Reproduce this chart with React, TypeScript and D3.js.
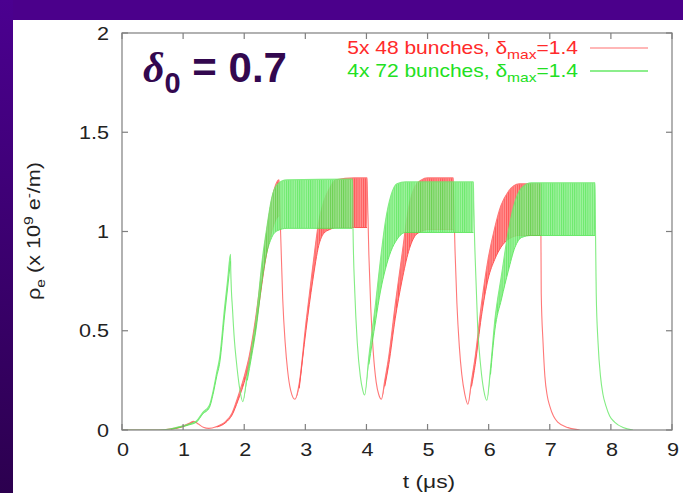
import React from 'react';
import * as d3 from 'd3';

// Each row: [t (µs), lower envelope, upper envelope] of the electron line density (x 1e9 e-/m).
// Where lower == upper the curve is a single decaying line between bunch trains.
type Row = [number, number, number];

const xTicks = [0, 1, 2, 3, 4, 5, 6, 7, 8, 9];
const yTicks = [0, 0.5, 1, 1.5, 2];
const yTickLabels = ['0', '0.5', '1', '1.5', '2'];

// 5 trains of 48 bunches, delta_max = 1.4
const trains48: Row[] = [
  [0, 0, 0], [0.6, 0, 0], [0.8, 0.004, 0.006], [0.97, 0.014, 0.018], [1.1, 0.03, 0.034], [1.17, 0.04, 0.044],
  [1.25, 0.03, 0.03], [1.33, 0.014, 0.014], [1.42, 0.008, 0.008],
  [1.55, 0.015, 0.018], [1.7, 0.038, 0.044], [1.8, 0.075, 0.085], [1.9, 0.15, 0.17], [2.0, 0.24, 0.27],
  [2.08, 0.33, 0.37], [2.17, 0.48, 0.53], [2.25, 0.65, 0.71], [2.35, 0.86, 0.96], [2.45, 1.0, 1.16],
  [2.52, 1.06, 1.24], [2.57, 1.08, 1.26],
  [2.575, 1.2, 1.2], [2.6, 0.95, 0.95], [2.63, 0.66, 0.66], [2.67, 0.44, 0.44], [2.71, 0.3, 0.3],
  [2.76, 0.2, 0.2], [2.83, 0.155, 0.155],
  [2.9, 0.21, 0.235], [3.01, 0.5, 0.54], [3.12, 0.75, 0.82], [3.22, 0.93, 1.05], [3.3, 0.99, 1.15],
  [3.4, 1.01, 1.22], [3.5, 1.02, 1.26], [3.8, 1.02, 1.27], [4.01, 1.02, 1.27],
  [4.015, 1.2, 1.2], [4.04, 0.88, 0.88], [4.07, 0.62, 0.62], [4.11, 0.4, 0.4], [4.16, 0.24, 0.24],
  [4.2, 0.18, 0.18], [4.245, 0.155, 0.155],
  [4.3, 0.22, 0.25], [4.365, 0.33, 0.37], [4.47, 0.56, 0.63], [4.58, 0.75, 0.88], [4.69, 0.9, 1.12],
  [4.8, 0.98, 1.23], [4.9, 1.0, 1.26], [5.0, 1.01, 1.27], [5.42, 1.01, 1.27],
  [5.425, 1.2, 1.2], [5.45, 0.9, 0.9], [5.48, 0.64, 0.64], [5.52, 0.42, 0.42], [5.56, 0.28, 0.28],
  [5.61, 0.18, 0.18], [5.66, 0.13, 0.13],
  [5.72, 0.22, 0.25], [5.78, 0.33, 0.37], [5.88, 0.57, 0.63], [5.99, 0.76, 0.86], [6.1, 0.86, 1.02],
  [6.2, 0.92, 1.13], [6.32, 0.96, 1.2], [6.5, 0.98, 1.24], [6.85, 0.98, 1.24],
  [6.855, 1.0, 1.0], [6.86, 0.69, 0.69], [6.89, 0.44, 0.44], [6.92, 0.27, 0.27], [6.96, 0.17, 0.17],
  [7.0, 0.12, 0.12], [7.06, 0.07, 0.07], [7.13, 0.04, 0.04], [7.3, 0.012, 0.012], [7.49, 0, 0],
];

// 4 trains of 72 bunches, delta_max = 1.4
const trains72: Row[] = [
  [0, 0, 0], [0.6, 0, 0], [0.8, 0.004, 0.006], [0.97, 0.015, 0.019], [1.1, 0.026, 0.03], [1.22, 0.04, 0.046],
  [1.32, 0.08, 0.088], [1.43, 0.113, 0.125], [1.49, 0.18, 0.195], [1.55, 0.27, 0.29], [1.6, 0.34, 0.37],
  [1.68, 0.58, 0.62], [1.73, 0.72, 0.76], [1.775, 0.85, 0.885],
  [1.78, 0.8, 0.8], [1.81, 0.6, 0.6], [1.84, 0.45, 0.45], [1.87, 0.35, 0.35], [1.92, 0.22, 0.22], [1.976, 0.143, 0.143],
  [2.05, 0.25, 0.28], [2.12, 0.37, 0.41], [2.19, 0.5, 0.55], [2.3, 0.77, 0.87], [2.36, 0.88, 1.0],
  [2.45, 0.97, 1.17], [2.55, 1.005, 1.24], [2.7, 1.016, 1.26], [3.77, 1.016, 1.264],
  [3.775, 1.2, 1.2], [3.78, 1.02, 1.02], [3.81, 0.69, 0.69], [3.85, 0.44, 0.44], [3.9, 0.27, 0.27],
  [3.94, 0.2, 0.2], [3.97, 0.176, 0.176],
  [4.04, 0.33, 0.37], [4.15, 0.55, 0.64], [4.23, 0.7, 0.86], [4.31, 0.81, 1.05], [4.4, 0.9, 1.18],
  [4.5, 0.96, 1.24], [4.64, 0.995, 1.25], [5.75, 0.995, 1.25],
  [5.755, 1.15, 1.15], [5.78, 0.86, 0.86], [5.82, 0.52, 0.52], [5.87, 0.32, 0.32], [5.92, 0.2, 0.2], [5.97, 0.15, 0.15],
  [6.03, 0.28, 0.31], [6.1, 0.5, 0.55], [6.21, 0.66, 0.78], [6.32, 0.8, 1.0], [6.43, 0.92, 1.15],
  [6.54, 0.97, 1.22], [6.7, 0.98, 1.245], [7.74, 0.98, 1.245],
  [7.745, 1.1, 1.1], [7.76, 0.69, 0.69], [7.79, 0.44, 0.44], [7.83, 0.27, 0.27], [7.87, 0.18, 0.18],
  [7.92, 0.12, 0.12], [7.98, 0.07, 0.07], [8.06, 0.04, 0.04], [8.2, 0.012, 0.012], [8.36, 0, 0],
];

const W = 683;
const H = 493;
const plot = { left: 122, right: 672, top: 33, bottom: 430 };
const SANS = "'Liberation Sans', Arial, Helvetica, sans-serif";
const STRETCH = 1.2;

const series = [
  { id: 'b48', data: trains48, strong: '#ff5656', light: '#ff9494', line: '#ff7878', opacity: 1 },
  { id: 'b72', data: trains72, strong: '#50e650', light: '#92f092', line: '#6eea6e', opacity: 0.85 },
];

function GText(props: {
  x: number; y: number; anchor?: string; size?: number; rotate?: number; fill?: string; children: React.ReactNode;
}) {
  const { x, y, anchor = 'middle', size = 18, rotate = 0, fill = '#222', children } = props;
  return (
    <text
      transform={`translate(${x},${y}) rotate(${rotate}) scale(${STRETCH},1)`}
      textAnchor={anchor}
      fontSize={size}
      fontFamily={SANS}
      fill={fill}
    >
      {children}
    </text>
  );
}

export default function App() {
  const x = d3.scaleLinear().domain([0, 9]).range([plot.left, plot.right]);
  const y = d3.scaleLinear().domain([0, 2]).range([plot.bottom, plot.top]);

  const curve = d3.curveMonotoneX;
  const band = d3.area<Row>().curve(curve).x(d => x(d[0])).y0(d => y(d[1])).y1(d => y(d[2]));
  const upper = d3.line<Row>().curve(curve).x(d => x(d[0])).y(d => y(d[2]));
  const lower = d3.line<Row>().curve(curve).defined(d => d[2] - d[1] > 0.001).x(d => x(d[0])).y(d => y(d[1]));

  const tickLen = 6;
  const frame = '#7f7f7f';

  return (
    <svg width={W} height={H} style={{ position: 'absolute', left: 0, top: 0, background: '#fff' }}>
      <defs>
        <linearGradient id="sideBar" x1="0" y1="0" x2="0" y2="1">
          <stop offset="0" stopColor="#4b0090" />
          <stop offset="1" stopColor="#2c004f" />
        </linearGradient>
        {series.map(s => (
          <pattern key={s.id} id={`stripes-${s.id}`} width={2.2} height={10} patternUnits="userSpaceOnUse">
            <rect width={2.2} height={10} fill={s.light} />
            <rect width={1} height={10} fill={s.strong} />
          </pattern>
        ))}
        <clipPath id="plotClip">
          <rect x={plot.left} y={plot.top} width={plot.right - plot.left} height={plot.bottom - plot.top} />
        </clipPath>
      </defs>

      <rect width={W} height={H} fill="#fff" />
      <rect x={0} y={0} width={W} height={20} fill="#4b008b" />
      <rect x={0} y={0} width={13} height={H} fill="url(#sideBar)" />

      {/* curves */}
      <g clipPath="url(#plotClip)">
        {series.map(s => (
          <g key={s.id} opacity={s.opacity}>
            <path d={band(s.data) ?? ''} fill={`url(#stripes-${s.id})`} stroke="none" />
            <path d={upper(s.data) ?? ''} fill="none" stroke={s.line} strokeWidth={1.1} />
            <path d={lower(s.data) ?? ''} fill="none" stroke={s.strong} strokeWidth={1} />
          </g>
        ))}
      </g>

      {/* frame with mirrored inward ticks */}
      <rect
        x={plot.left}
        y={plot.top}
        width={plot.right - plot.left}
        height={plot.bottom - plot.top}
        fill="none"
        stroke={frame}
        strokeWidth={1.2}
      />
      {xTicks.map(t => (
        <g key={`xt${t}`} stroke={frame} strokeWidth={1.2}>
          <line x1={x(t)} x2={x(t)} y1={plot.bottom} y2={plot.bottom - tickLen} />
          <line x1={x(t)} x2={x(t)} y1={plot.top} y2={plot.top + tickLen} />
        </g>
      ))}
      {yTicks.map(v => (
        <g key={`yt${v}`} stroke={frame} strokeWidth={1.2}>
          <line x1={plot.left} x2={plot.left + tickLen} y1={y(v)} y2={y(v)} />
          <line x1={plot.right} x2={plot.right - tickLen} y1={y(v)} y2={y(v)} />
        </g>
      ))}

      {/* tick labels */}
      {xTicks.map(t => (
        <GText key={`xl${t}`} x={x(t) + 1} y={456}>{String(t)}</GText>
      ))}
      {yTicks.map((v, i) => (
        <GText key={`yl${v}`} x={109} y={y(v) + 6.5} anchor="end">{yTickLabels[i]}</GText>
      ))}

      {/* axis titles */}
      <GText x={429} y={488} size={19}>t (μs)</GText>
      <GText x={40} y={231} rotate={-90} size={18}>
        <tspan>ρ</tspan>
        <tspan dy={5} fontSize={13}>e</tspan>
        <tspan dy={-5}> (x 10</tspan>
        <tspan dy={-7} fontSize={13}>9</tspan>
        <tspan dy={7}> e</tspan>
        <tspan dy={-7} fontSize={13}>-</tspan>
        <tspan dy={7}>/m)</tspan>
      </GText>

      {/* key */}
      <GText x={578} y={54} anchor="end" size={17.5} fill="#ff2a2a">
        <tspan>5x 48 bunches, δ</tspan>
        <tspan dy={5} fontSize={13}>max</tspan>
        <tspan dy={-5}>=1.4</tspan>
      </GText>
      <line x1={590} x2={648} y1={48} y2={48} stroke="#ff7070" strokeWidth={1.2} />
      <GText x={578} y={77} anchor="end" size={17.5} fill="#22e022">
        <tspan>4x 72 bunches, δ</tspan>
        <tspan dy={5} fontSize={13}>max</tspan>
        <tspan dy={-5}>=1.4</tspan>
      </GText>
      <line x1={590} x2={648} y1={71} y2={71} stroke="#66e866" strokeWidth={1.6} />

      {/* annotation */}
      <text x={143} y={82} fontSize={42} fontWeight="bold" fontFamily={SANS} fill="#33084f">
        <tspan fontFamily="'Liberation Serif', 'Times New Roman', serif" fontStyle="italic">δ</tspan>
        <tspan dy={11} fontSize={29}>0</tspan>
        <tspan dy={-11}> = 0.7</tspan>
      </text>
    </svg>
  );
}
